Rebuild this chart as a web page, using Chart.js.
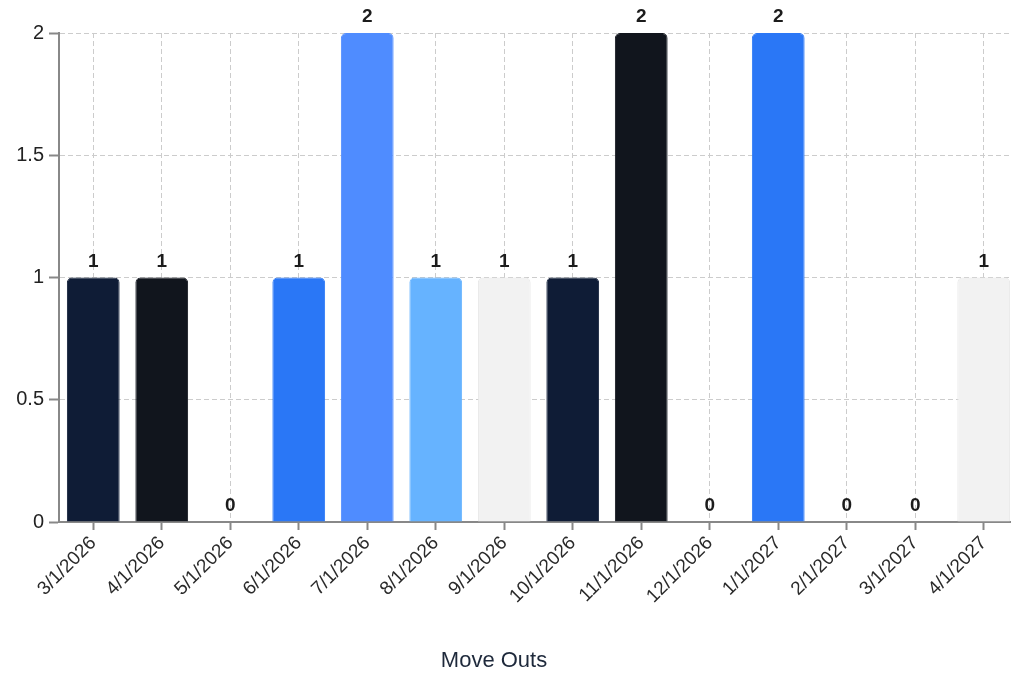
<!DOCTYPE html>
<html>
<head>
<meta charset="utf-8">
<title>Move Outs</title>
<script src="https://cdn.jsdelivr.net/npm/chart.js@4.4.1/dist/chart.umd.min.js"></script>
<style>
  html, body { margin: 0; padding: 0; background: #ffffff; overflow: hidden; }
  #wrap { position: relative; width: 1020px; height: 677px; }
</style>
</head>
<body>
<div id="wrap"><canvas id="chart"></canvas></div>
<script>
// Monthly move-out counts
const months = ['3/1/2026', '4/1/2026', '5/1/2026', '6/1/2026', '7/1/2026', '8/1/2026', '9/1/2026',
                '10/1/2026', '11/1/2026', '12/1/2026', '1/1/2027', '2/1/2027', '3/1/2027', '4/1/2027'];
const moveOuts = [1, 1, 0, 1, 2, 1, 1, 1, 2, 0, 2, 0, 0, 1];
const yTicks = [0, 0.5, 1, 1.5, 2];
const axisTitle = 'Move Outs';

// Palette cycles every seven bars
const palette = ['#0f1c36', '#11151d', '#1f5fd6', '#2a77f6', '#4f8cff', '#66b3ff', '#f2f2f2'];
const barColors = moveOuts.map((_, i) => palette[i % palette.length]);
const barBorders = barColors.map(c => c === '#f2f2f2' ? '#e6e6e6' : c);

const FONT = '"Liberation Sans", Arial, Helvetica, sans-serif';

// Value labels above each bar, plus the centred axis caption
const annotations = {
  id: 'annotations',
  afterDatasetsDraw(chart) {
    const ctx = chart.ctx;
    const meta = chart.getDatasetMeta(0);
    const values = chart.data.datasets[0].data;
    ctx.save();
    ctx.font = 'bold 19px ' + FONT;
    ctx.fillStyle = '#1c1c1c';
    ctx.textAlign = 'center';
    ctx.textBaseline = 'middle';
    meta.data.forEach((bar, i) => {
      ctx.fillText(String(values[i]), bar.x, bar.y - 16);
    });
    ctx.font = '22px ' + FONT;
    ctx.fillStyle = '#1e293b';
    ctx.fillText(axisTitle, 494, 661);
    ctx.restore();
  }
};

new Chart(document.getElementById('chart'), {
  type: 'bar',
  data: {
    labels: months,
    datasets: [{
      label: axisTitle,
      data: moveOuts,
      backgroundColor: barColors,
      borderColor: barBorders,
      borderWidth: 1,
      borderRadius: 5,
      borderSkipped: 'start',
      barPercentage: 0.77,
      categoryPercentage: 1.0
    }]
  },
  options: {
    responsive: true,
    maintainAspectRatio: false,
    animation: false,
    layout: { padding: { top: 33, right: 2, left: 0, bottom: 0 } },
    plugins: {
      legend: { display: false },
      tooltip: { enabled: false }
    },
    scales: {
      x: {
        grid: {
          display: true,
          offset: false,
          color: '#cccccc',
          lineWidth: 1,
          drawTicks: true,
          tickLength: 8,
          tickColor: '#888888',
          tickWidth: 2,
          tickBorderDash: []
        },
        border: { display: true, color: '#888888', width: 2, dash: [5, 3] },
        ticks: {
          color: '#2a2a2a',
          font: { family: FONT, size: 19 },
          minRotation: 45,
          maxRotation: 45,
          padding: 2,
          autoSkip: false
        },
        afterFit(scale) { scale.height = 155; }
      },
      y: {
        min: 0,
        max: 2,
        afterBuildTicks(scale) { scale.ticks = yTicks.map(v => ({ value: v })); },
        grid: {
          display: true,
          color: '#cccccc',
          lineWidth: 1,
          drawTicks: true,
          tickLength: 10,
          tickColor: '#888888',
          tickWidth: 2,
          tickBorderDash: []
        },
        border: { display: true, color: '#888888', width: 2, dash: [5, 3] },
        ticks: {
          color: '#222222',
          font: { family: FONT, size: 20 },
          padding: 5,
          callback: (v) => String(v)
        },
        afterFit(scale) { scale.width = 59; }
      }
    }
  },
  plugins: [annotations]
});
</script>
</body>
</html>
